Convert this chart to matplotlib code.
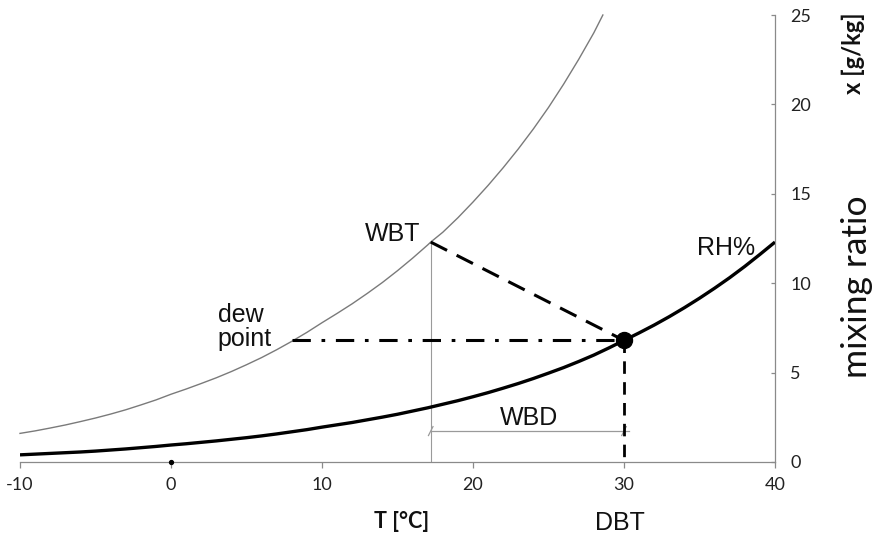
import matplotlib
matplotlib.use("Agg")
import matplotlib.pyplot as plt

# Saturation mixing ratio curve (thin grey)
sat_T = [-10, -9, -8, -7, -6, -5, -4, -3, -2, -1, 0, 1, 2, 3, 4, 5, 6, 7, 8, 9, 10,
         11, 12, 13, 14, 15, 16, 17, 17.2, 18, 19, 20, 21, 22, 23, 24, 25, 26, 27, 28, 28.6]
sat_x = [1.60, 1.74, 1.90, 2.07, 2.26, 2.46, 2.68, 2.92, 3.19, 3.47, 3.79, 4.08, 4.39, 4.71, 5.06,
         5.44, 5.84, 6.28, 6.75, 7.25, 7.79, 8.31, 8.85, 9.43, 10.04, 10.70, 11.40, 12.14, 12.30,
         12.85, 13.66, 14.54, 15.47, 16.46, 17.51, 18.63, 19.83, 21.13, 22.52, 24.00, 25.0]

# Relative humidity curve (thick black)
rh_T = [-10, -9, -8, -7, -6, -5, -4, -3, -2, -1, 0, 1, 2, 3, 4, 5, 6, 7, 8, 9, 10,
        11, 12, 13, 14, 15, 16, 17, 18, 19, 20, 21, 22, 23, 24, 25, 26, 27, 28, 29, 30,
        31, 32, 33, 34, 35, 36, 37, 38, 39, 40]
rh_x = [0.40, 0.44, 0.48, 0.52, 0.56, 0.61, 0.67, 0.73, 0.80, 0.87, 0.95, 1.02, 1.10, 1.18, 1.27,
        1.36, 1.46, 1.57, 1.69, 1.81, 1.95, 2.08, 2.21, 2.36, 2.51, 2.67, 2.85, 3.03, 3.23, 3.43,
        3.65, 3.88, 4.13, 4.39, 4.67, 4.97, 5.28, 5.62, 5.98, 6.38, 6.80, 7.22, 7.66, 8.13, 8.63,
        9.16, 9.72, 10.31, 10.94, 11.61, 12.30]

# Key points
dbt = 30.0
x_state = 6.8
wbt = 17.2
x_wbt = 12.3
dew = 8.0
wbd_level = 1.73

x_ticks = [-10, 0, 10, 20, 30, 40]
y_ticks = [0, 5, 10, 15, 20, 25]

fig = plt.figure(figsize=(8.76, 5.40), dpi=100)
ax = fig.add_axes([20 / 876, 1 - 462 / 540, 755 / 876, 447 / 540])
ax.set_xlim(-10, 40)
ax.set_ylim(0, 25)

grey = "#8a8a8a"
tickfont = "Lato"
lblfont = "Liberation Sans"

ax.plot(sat_T, sat_x, color="#7a7a7a", lw=1.0, clip_on=False, zorder=3)
ax.plot(rh_T, rh_x, color="black", lw=2.4, solid_capstyle="butt", solid_joinstyle="round", zorder=4)

# thin grey vertical at WBT
ax.plot([wbt, wbt], [0, x_wbt], color="#9a9a9a", lw=0.8, zorder=2)
# WBD bracket
ax.plot([wbt, dbt + 0.3], [wbd_level, wbd_level], color="#9a9a9a", lw=0.9, zorder=2)
ax.plot([wbt - 0.15, wbt + 0.15], [wbd_level - 0.25, wbd_level + 0.25], color="#9a9a9a", lw=0.9, zorder=2)
ax.plot([dbt - 0.15, dbt + 0.15], [wbd_level - 0.25, wbd_level + 0.25], color="#9a9a9a", lw=0.9, zorder=2)

# dashed line WBT -> state point
ax.plot([wbt, dbt], [x_wbt, x_state], color="black", lw=2.2, linestyle=(0, (6, 3.5)), zorder=5)
# dash-dot dew point line
ax.plot([dew, dbt], [x_state, x_state], color="black", lw=2.2, linestyle=(0, (6, 3.5, 1.2, 3.5)), zorder=5)
# dashed vertical at DBT
ax.plot([dbt, dbt], [x_state, 0], color="black", lw=2.0, linestyle=(0, (4.5, 3)), zorder=5, clip_on=False)

# state point and origin dot
ax.plot([dbt], [x_state], "o", color="black", ms=11.5, zorder=6)
ax.plot([0], [0], "o", color="black", ms=2.8, zorder=6, clip_on=False)

# spines
for s in ["left", "top"]:
    ax.spines[s].set_visible(False)
ax.spines["bottom"].set_color(grey)
ax.spines["right"].set_color(grey)
ax.spines["bottom"].set_linewidth(0.9)
ax.spines["right"].set_linewidth(0.9)

ax.set_xticks(x_ticks)
ax.set_xticklabels([str(v) for v in x_ticks], fontfamily=tickfont, fontsize=13)
ax.tick_params(axis="x", direction="out", length=4, color=grey, width=0.9, pad=7, labelcolor="#222222")

ax.yaxis.tick_right()
ax.set_yticks(y_ticks)
ax.set_yticklabels([str(v) for v in y_ticks], fontfamily=tickfont, fontsize=13)
ax.tick_params(axis="y", direction="in", length=3, color=grey, width=0.9, pad=11, labelcolor="#222222")

# annotations
ax.text(14.67, 12.75, "WBT", fontfamily=lblfont, fontsize=18, ha="center", va="center", color="#111111")
ax.text(3.1, 7.55, "dew\npoint", fontfamily=lblfont, fontsize=18, ha="left", va="center",
        color="#111111", linespacing=1.0)
ax.text(36.76, 11.97, "RH%", fontfamily=lblfont, fontsize=18, ha="center", va="center", color="#111111")
ax.text(23.73, 2.46, "WBD", fontfamily=lblfont, fontsize=18, ha="center", va="center", color="#111111")
ax.text(29.75, -3.42, "DBT", fontfamily=lblfont, fontsize=18, ha="center", va="center",
        color="#111111", clip_on=False)
ax.text(15.26, -3.3, "T [°C]", fontfamily=tickfont, fontweight="bold", fontsize=15.5, ha="center",
        va="center", color="#111111", clip_on=False)

fig.text(853 / 876, 1 - 53 / 540, "x [g/kg]", fontfamily=tickfont, fontweight="bold", fontsize=17,
         rotation=90, ha="center", va="center", color="#111111")
fig.text(857 / 876, 1 - 287 / 540, "mixing ratio", fontfamily=tickfont, fontsize=25.5,
         rotation=90, ha="center", va="center", color="#111111")

fig.savefig("out.png", dpi=100)
